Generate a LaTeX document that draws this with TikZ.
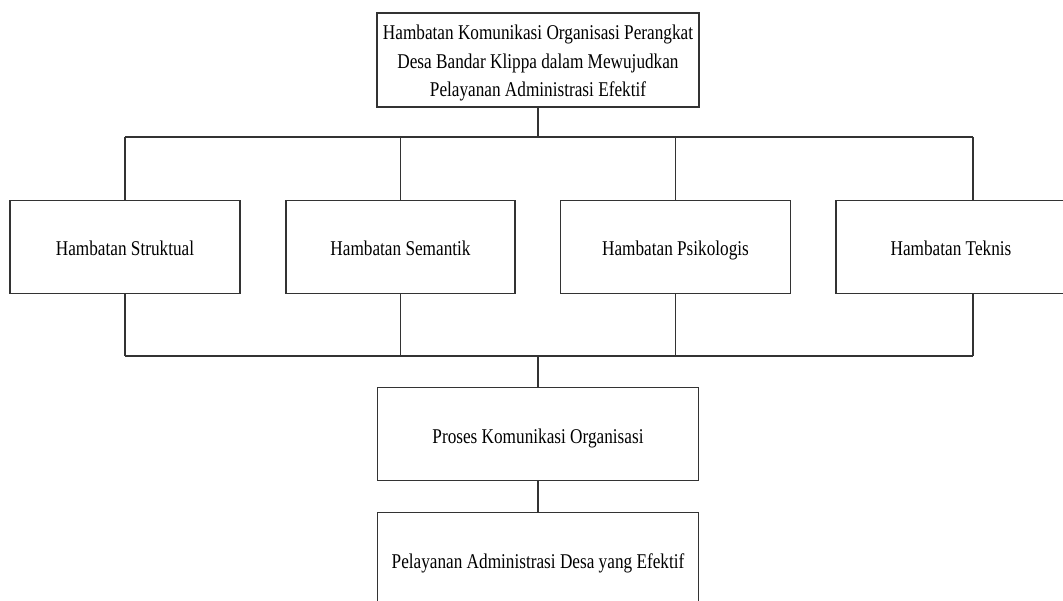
\documentclass[tikz,border=0pt]{standalone}
\usepackage{fontspec}
\setmainfont{Liberation Serif}[FakeStretch=0.82]
\begin{document}
\begin{tikzpicture}[x=1pt,y=-1pt,
  box/.style={draw=black!80,line width=1.1pt,fill=white,align=center,
    inner sep=0pt,font=\fontsize{21}{28.5}\selectfont},
  one/.style={box,text height=19pt,text depth=1pt},
  conn/.style={draw=black!80,line width=1.1pt}]
\useasboundingbox (0,0) rectangle (1063,601);
\clip (0,0) rectangle (1063,601);
\node[box,minimum width=322pt,minimum height=94pt] (top) at (538,60) {};
\node[align=center,inner sep=0pt,font=\fontsize{21}{28.5}\selectfont] (toptext) at (538,63)
  {Hambatan Komunikasi Organisasi Perangkat\\Desa Bandar Klippa dalam Mewujudkan\\Pelayanan Administrasi Efektif};
\node[one,minimum width=230pt,minimum height=93pt] (b1) at (125,246.7) {Hambatan Struktual};
\node[one,minimum width=229pt,minimum height=93pt] (b2) at (400.5,246.7) {Hambatan Semantik};
\node[one,minimum width=230pt,minimum height=93pt] (b3) at (675.5,246.7) {Hambatan Psikologis};
\node[one,minimum width=230pt,minimum height=93pt] (b4) at (951,246.7) {Hambatan Teknis};
\node[one,minimum width=321pt,minimum height=93pt] (pr) at (538,434.4) {Proses Komunikasi Organisasi};
\node[one,minimum width=321pt,minimum height=93pt] (pl) at (538,559) {Pelayanan Administrasi Desa yang Efektif};
\coordinate (ht) at (538,137);
\coordinate (htl) at (125,137);
\coordinate (htr) at (973,137);
\coordinate (hb) at (538,356);
\coordinate (hbl) at (125,356);
\coordinate (hbr) at (973,356);
\draw[conn] (top.south) -- (ht);
\draw[conn] (htl) -- (htr);
\draw[conn] (htl) -- (b1.north);
\draw[conn] (b2.north |- ht) -- (b2.north);
\draw[conn] (b3.north |- ht) -- (b3.north);
\draw[conn] (htr) -- (htr |- b4.north);
\draw[conn] (b1.south) -- (hbl);
\draw[conn] (b2.south) -- (b2.south |- hb);
\draw[conn] (b3.south) -- (b3.south |- hb);
\draw[conn] (hbr |- b4.south) -- (hbr);
\draw[conn] (hbl) -- (hbr);
\draw[conn] (hb) -- (pr.north);
\draw[conn] (pr.south) -- (pl.north);
\end{tikzpicture}
\end{document}
